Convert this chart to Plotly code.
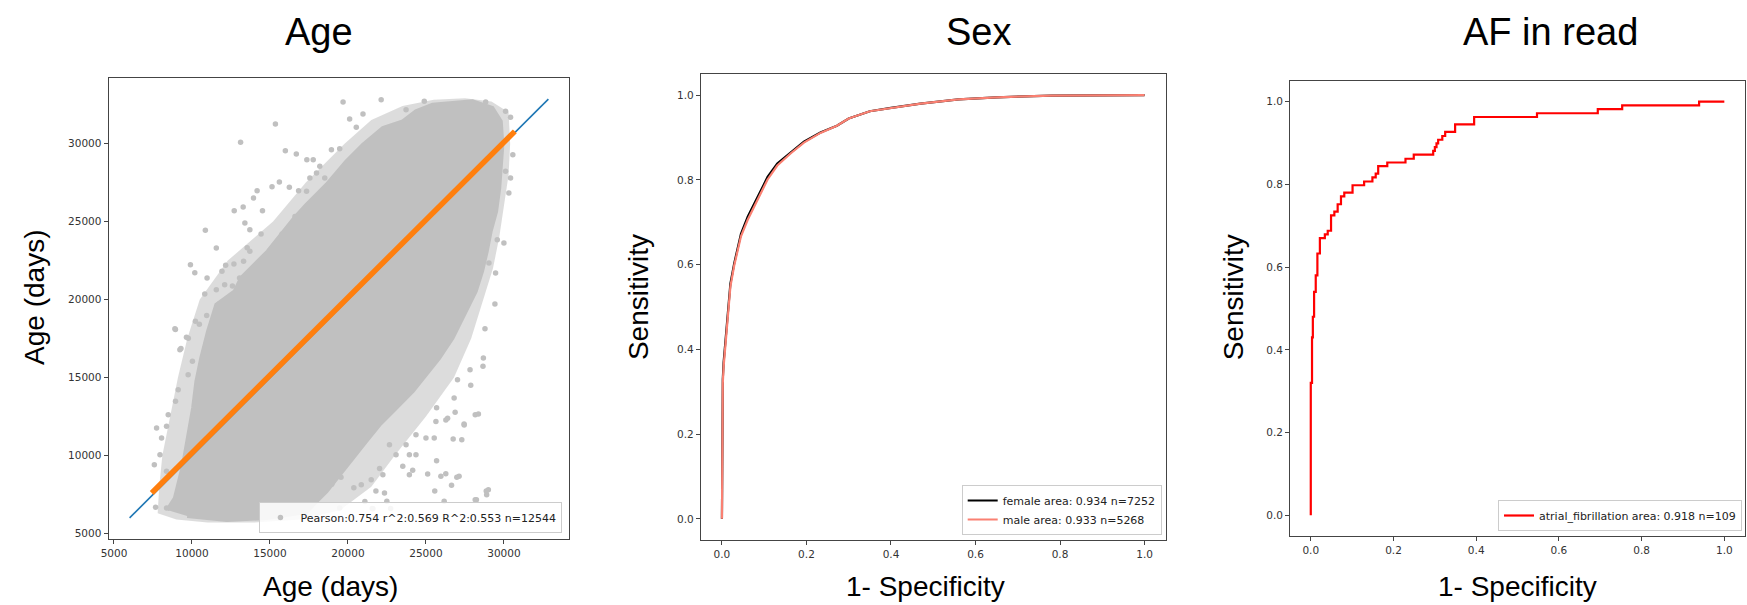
import plotly.graph_objects as go

W, H = 1747, 605

# ---------------- Age panel: predicted vs. actual age (days) ----------------
# outer, sparser band of the point cloud (outline, data units)
HALO_X = [7800, 7900, 8100, 8600, 9100, 9700, 10500, 12300, 15200, 17300, 19800, 21500,
          23500, 25500, 27500, 29200, 30300, 30400, 30300, 30000, 29700, 29300, 28700, 27900,
          26800, 25000, 23000, 21500, 19500, 17000, 14000, 11000, 9000]
HALO_Y = [6300, 8000, 10000, 12500, 15000, 17500, 20000, 22500, 25000, 27500, 30000, 31500,
          32400, 32800, 32900, 32700, 32000, 30000, 28000, 26000, 24000, 22000, 20000, 17500,
          15000, 12500, 10000, 8000, 6500, 5900, 5700, 5700, 5900]

# dense body of the point cloud (outline, data units)
CLOUD_X = [8414, 8906, 9435, 9754, 10073, 10283, 10596, 11030, 11560, 12734, 13155, 14858,
           16561, 17346, 18622, 19898, 20964, 22239, 23515, 24361, 25427, 26706, 27983, 29258,
           29800, 29900, 29800, 29700, 29500, 29150, 28900, 28600, 28192, 27983, 27345, 26706,
           25850, 25002, 24154, 23083, 22025, 21168, 20324, 19471, 18622, 17773, 17346, 14794,
           12242, 9690]
CLOUD_Y = [6509, 7278, 9413, 11124, 13047, 14759, 16252, 17964, 19668, 20528, 21380, 23092,
           25226, 26079, 27361, 28861, 29925, 30995, 31425, 32065, 32489, 32598, 32707, 32278,
           31425, 29925, 28643, 27149, 25655, 24374, 23092, 21810, 20528, 20098, 18816, 17534,
           16252, 15182, 14118, 13047, 11977, 10913, 9842, 8772, 7707, 6849, 6381, 5996,
           5868, 6124]

# individual points around the edges of the cloud
PTS_X = [15349, 13116, 15987, 16689, 17365, 15604, 15132, 14175, 16242, 16836, 13282, 12708,
         14520, 13946, 10858, 13391, 13710, 14431, 11560, 9901, 10181, 10966, 10819, 12159,
         11923, 12689, 13308, 13710, 14986, 12095, 11560, 13052,
         8905, 10220, 9224, 9646, 10028, 9754, 9116, 8944, 8478, 8370, 7731, 8050, 7585, 7949,
         8370, 7668, 8370, 9224,
         19687, 22131, 20109, 20964, 20535, 17773, 18195, 18941, 19471, 17558, 17984, 18514,
         17346, 24894, 23726, 28403, 28830, 27765, 30106, 30425, 30571, 30425, 30317, 30106,
         30000, 29574, 29466, 29040, 28938,
         29423, 28786, 28683, 28658, 27828, 27873, 27025, 26808, 28365, 27446, 26872, 27299,
         26278, 25640, 25532, 25002, 25683, 24361, 24361, 25111, 25958, 26642, 27126, 29003,
         28894, 28237, 26169, 23938, 23515, 23083, 23726, 23938, 22342, 22495, 21602, 19471,
         20855, 21493, 22239, 22661,
         8939, 9764, 9292, 10472, 10943, 11769, 12594, 13538, 15778, 16604, 25684, 26391,
         26746, 27453, 28161, 24151, 25566, 26274, 26981, 28868, 28161, 22028, 21085, 21793,
         20377, 18962, 19552, 17783, 16132, 15189, 22736, 21557]
PTS_Y = [31252, 30078, 29540, 29329, 28963, 27534, 27233, 26976, 27194, 26976, 25932, 25695,
         25695, 26509, 24437, 24906, 24477, 24200, 23303, 22233, 21720, 21380, 20355, 22191,
         21806, 22277, 22451, 23092, 23092, 20951, 20630, 21380,
         18130, 18605, 16784, 17579, 16041, 15182, 14220, 13477, 12618, 11874, 11766, 11124,
         9413, 10054, 8990, 6682, 6637, 7387,
         32662, 32810, 31572, 31893, 31040, 28963, 28540, 29604, 29668, 27790, 28111, 27790,
         26937, 32707, 32168, 32489, 32662, 32598, 32065, 31680, 29284, 27790, 26828, 28219,
         23624, 23836, 21701, 22342, 24797,
         19714, 18130, 16252, 15720, 15502, 14502, 14861, 13688, 12663, 12022, 12771, 11015,
         12279, 12176, 11124, 11124, 9669, 11336, 10054, 8817, 8669, 8092, 8669, 7810,
         7490, 7169, 7067, 8772, 9310, 10054, 10695, 10054, 7599, 7067, 6592, 6637,
         8131, 8451, 8772, 10695,
         18080, 17523, 16855, 18414, 18971, 19751, 20865, 23316, 24207, 25321, 13067, 12398,
         11062, 11953, 12622, 9057, 7720, 8834, 8611, 7720, 7163, 9168, 7051, 7720,
         7943, 8166, 8611, 7720, 6829, 6495, 6606, 6606]

IDENTITY_X = [6000, 32850]
IDENTITY_Y = [6000, 32850]
FIT_X = [7420, 30700]
FIT_Y = [7600, 30780]
AGE_LABEL = "Pearson:0.754 r^2:0.569 R^2:0.553 n=12544"
AGE_TICKS = [5000, 10000, 15000, 20000, 25000, 30000]

# ---------------- Sex panel: ROC curves ----------------
SEX_FPR = [0, 0.001, 0.002, 0.004, 0.0075, 0.012, 0.020, 0.029, 0.037, 0.045, 0.061, 0.076,
           0.092, 0.108, 0.131, 0.163, 0.194, 0.233, 0.272, 0.30, 0.35, 0.40, 0.47, 0.56,
           0.65, 0.78, 0.9, 1.0]
FEMALE_TPR = [0, 0.26, 0.33, 0.37, 0.41, 0.47, 0.555, 0.603, 0.642, 0.673, 0.713, 0.744,
              0.776, 0.807, 0.839, 0.866, 0.890, 0.912, 0.928, 0.945, 0.962, 0.970, 0.980,
              0.990, 0.995, 0.999, 1.0, 1.0]
MALE_TPR = [0, 0.25, 0.32, 0.36, 0.40, 0.46, 0.548, 0.598, 0.636, 0.667, 0.706, 0.737,
            0.769, 0.801, 0.834, 0.863, 0.888, 0.911, 0.928, 0.945, 0.962, 0.970, 0.980,
            0.990, 0.995, 0.999, 1.0, 1.0]
FEMALE_LABEL = "female area: 0.934 n=7252"
MALE_LABEL = "male area: 0.933 n=5268"

# ---------------- AF panel: step ROC ----------------
AF_FPR = [0, 0, 0.003, 0.005, 0.008, 0.012, 0.016, 0.022, 0.034, 0.041, 0.049, 0.057, 0.065,
          0.073, 0.081, 0.101, 0.129, 0.149, 0.157, 0.163, 0.185, 0.229, 0.249, 0.296, 0.300,
          0.304, 0.308, 0.318, 0.325, 0.349, 0.395, 0.547, 0.694, 0.753, 0.939, 1.0]
AF_TPR = [0, 0.32, 0.43, 0.48, 0.54, 0.58, 0.633, 0.670, 0.679, 0.688, 0.725, 0.734, 0.752,
          0.771, 0.780, 0.798, 0.807, 0.817, 0.826, 0.844, 0.853, 0.862, 0.872, 0.881, 0.890,
          0.899, 0.908, 0.917, 0.927, 0.945, 0.963, 0.972, 0.982, 0.991, 1.0, 1.0]
AF_LABEL = "atrial_fibrillation area: 0.918 n=109"
ROC_TICKS = [0.0, 0.2, 0.4, 0.6, 0.8, 1.0]

PANEL_TITLES = ["Age", "Sex", "AF in read"]

# panel frames in pixels: (left, right, top, bottom)
FRAMES = [(101, 564, 78, 539), (696, 1163, 74, 540), (1288, 1745, 81, 536)]

TICK_FONT = dict(family="DejaVu Sans", size=10.5, color="#333333")
LEG_FONT = dict(family="DejaVu Sans", size=11, color="#222222")
TITLE_FAMILY = "Liberation Sans, Arial, sans-serif"
GRAY = "#c0c0c0"

fig = go.Figure()

# Age panel traces
fig.add_trace(go.Scatter(x=HALO_X, y=HALO_Y, mode="lines", fill="toself",
                         fillcolor="rgba(192,192,192,0.55)", line=dict(width=0),
                         showlegend=False, hoverinfo="skip", xaxis="x", yaxis="y"))
fig.add_trace(go.Scatter(x=CLOUD_X, y=CLOUD_Y, mode="lines", fill="toself",
                         fillcolor=GRAY, line=dict(color=GRAY, width=4),
                         showlegend=False, hoverinfo="skip", xaxis="x", yaxis="y"))
fig.add_trace(go.Scatter(x=PTS_X, y=PTS_Y, mode="markers", name=AGE_LABEL,
                         marker=dict(color=GRAY, size=5.5, line=dict(width=0)),
                         xaxis="x", yaxis="y", legend="legend"))
fig.add_trace(go.Scatter(x=IDENTITY_X, y=IDENTITY_Y, mode="lines",
                         line=dict(color="#1f77b4", width=1.6),
                         showlegend=False, xaxis="x", yaxis="y"))
fig.add_trace(go.Scatter(x=FIT_X, y=FIT_Y, mode="lines",
                         line=dict(color="#ff7f0e", width=5.5),
                         showlegend=False, xaxis="x", yaxis="y"))

# Sex panel traces
fig.add_trace(go.Scatter(x=SEX_FPR, y=FEMALE_TPR, mode="lines", name=FEMALE_LABEL,
                         line=dict(color="black", width=2.2),
                         xaxis="x2", yaxis="y2", legend="legend2"))
fig.add_trace(go.Scatter(x=SEX_FPR, y=MALE_TPR, mode="lines", name=MALE_LABEL,
                         line=dict(color="#fa8072", width=2.2),
                         xaxis="x2", yaxis="y2", legend="legend2"))

# AF panel trace
fig.add_trace(go.Scatter(x=AF_FPR, y=AF_TPR, mode="lines", name=AF_LABEL,
                         line=dict(color="#ff0000", width=2.2, shape="hv"),
                         xaxis="x3", yaxis="y3", legend="legend3"))


def axis_style(domain, rng, ticks, fmt, anchor):
    return dict(domain=domain, range=rng, tickvals=ticks, tickformat=fmt,
                showgrid=False, zeroline=False, showline=True, mirror=True,
                linecolor="#444444", linewidth=1, ticks="outside", ticklen=4,
                tickwidth=1, tickcolor="#444444", tickfont=TICK_FONT,
                anchor=anchor, fixedrange=True)


def xdom(f):
    return [f[0] / W, f[1] / W]


def ydom(f):
    return [1 - f[3] / H, 1 - f[2] / H]


fig.update_layout(
    xaxis=axis_style(xdom(FRAMES[0]), [4650, 34200], AGE_TICKS, "d", "y"),
    yaxis=axis_style(ydom(FRAMES[0]), [4650, 34200], AGE_TICKS, "d", "x"),
    xaxis2=axis_style(xdom(FRAMES[1]), [-0.05, 1.05], ROC_TICKS, ".1f", "y2"),
    yaxis2=axis_style(ydom(FRAMES[1]), [-0.05, 1.05], ROC_TICKS, ".1f", "x2"),
    xaxis3=axis_style(xdom(FRAMES[2]), [-0.05, 1.05], ROC_TICKS, ".1f", "y3"),
    yaxis3=axis_style(ydom(FRAMES[2]), [-0.05, 1.05], ROC_TICKS, ".1f", "x3"),
)

legend_common = dict(bgcolor="rgba(255,255,255,0.85)", bordercolor="#cccccc",
                     borderwidth=1, font=LEG_FONT, itemwidth=30,
                     xanchor="right", yanchor="bottom", tracegroupgap=0)
fig.update_layout(
    legend=dict(x=557 / W, y=1 - 533 / H, **legend_common),
    legend2=dict(x=1159 / W, y=1 - 535 / H, **legend_common),
    legend3=dict(x=1742 / W, y=1 - 531 / H, **legend_common),
)

annotations = []
# panel titles
for text, cx in zip(PANEL_TITLES, [312, 975, 1550]):
    annotations.append(dict(text=text, x=cx / W, y=1 - 32 / H, xref="paper", yref="paper",
                            xanchor="center", yanchor="middle", showarrow=False,
                            font=dict(family=TITLE_FAMILY, size=38, color="black")))
# axis titles
XT = [("Age (days)", 324), ("1- Specificity", 922), ("1- Specificity", 1516)]
YT = [("Age (days)", 26), ("Sensitivity", 633), ("Sensitivity", 1231)]
for text, cx in XT:
    annotations.append(dict(text=text, x=cx / W, y=1 - 586 / H, xref="paper", yref="paper",
                            xanchor="center", yanchor="middle", showarrow=False,
                            font=dict(family=TITLE_FAMILY, size=28, color="black")))
for text, cx in YT:
    annotations.append(dict(text=text, x=cx / W, y=1 - 297 / H, xref="paper", yref="paper",
                            xanchor="center", yanchor="middle", showarrow=False,
                            textangle=-90,
                            font=dict(family=TITLE_FAMILY, size=28, color="black")))

fig.update_layout(
    width=W, height=H, margin=dict(l=0, r=0, t=0, b=0),
    paper_bgcolor="white", plot_bgcolor="white",
    annotations=annotations, hovermode=False,
)

fig.write_html("out.html", config={"displayModeBar": False})
